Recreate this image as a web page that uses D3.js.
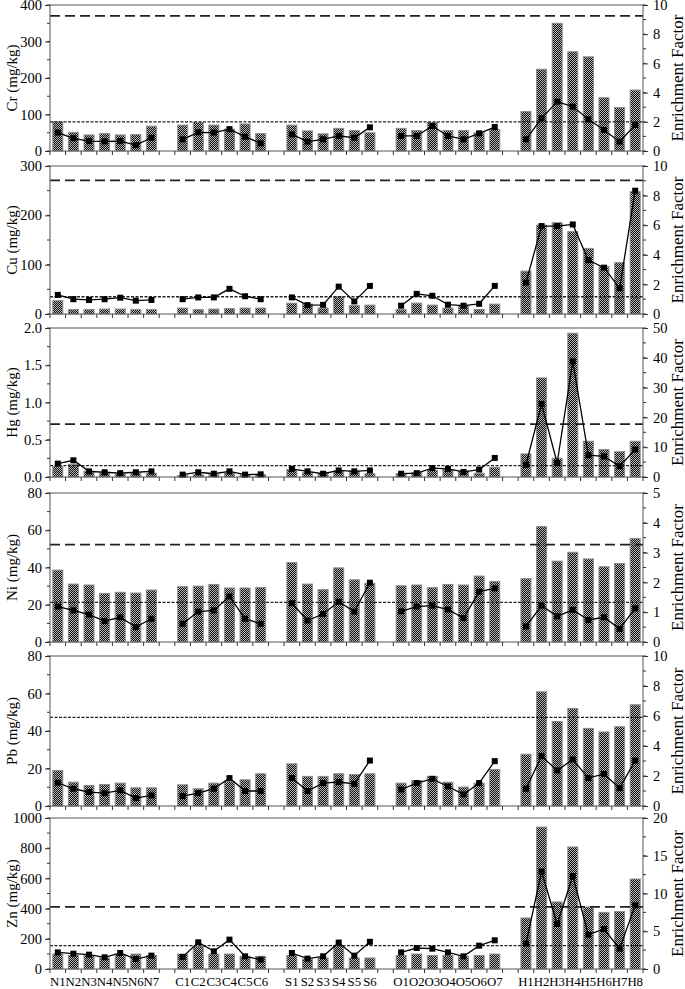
<!DOCTYPE html>
<html><head><meta charset="utf-8">
<script src="https://cdn.jsdelivr.net/npm/d3@7"></script>
<style>body{margin:0;background:#fff} svg{display:block}</style>
</head><body>
<svg id="c" width="685" height="989"></svg>
<script>
// ---------- DATA ----------
const groups = [
  ["N1","N2","N3","N4","N5","N6","N7"],
  ["C1","C2","C3","C4","C5","C6"],
  ["S1","S2","S3","S4","S5","S6"],
  ["O1","O2","O3","O4","O5","O6","O7"],
  ["H1","H2","H3","H4","H5","H6","H7","H8"]
];
const categories = groups.flat();
const elements = ["Cr","Cu","Hg","Ni","Pb","Zn"];

const crConc = [80,51,44,48,44,45,68, 71,78,71,60,74,48, 71,55,47,62,56,50, 62,56,78,56,56,50,59, 108,224,350,272,258,146,119,167];
const crEF   = [1.26,0.87,0.68,0.66,0.68,0.41,0.91, 0.8,1.28,1.26,1.5,0.98,0.53, 1.14,0.64,0.8,1.04,0.91,1.62, 1.03,1.03,1.71,1.03,0.8,1.21,1.64, 0.8,2.24,3.38,3.04,2.17,1.44,0.64,1.78];
const cuConc = [27,9,9,10,10,9,9, 12,9,10,11,12,12, 22,20,12,35,17,18, 9,22,18,12,17,9,20, 87,180,185,167,133,96,104,248];
const cuEF   = [1.29,1.0,0.95,1.0,1.1,0.9,0.95, 1.0,1.12,1.12,1.7,1.2,1.0, 1.12,0.6,0.62,1.85,0.85,1.9, 0.56,1.36,1.23,0.63,0.56,0.69,1.9, 2.12,5.94,5.94,6.05,3.64,3.13,1.74,8.33];
const hgConc = [0.14,0.17,0.08,0.05,0.045,0.05,0.05, 0.02,0.03,0.03,0.05,0.03,0.03, 0.1,0.06,0.045,0.08,0.08,0.045, 0.045,0.06,0.09,0.1,0.08,0.05,0.13, 0.31,1.33,0.25,1.93,0.48,0.37,0.34,0.48];
const hgEF   = [4.5,5.6,1.9,1.6,1.3,1.6,1.9, 0.8,1.6,1.1,1.9,0.8,0.9, 2.7,1.9,1.1,2.2,1.9,2.2, 1.1,1.3,3.0,2.7,1.7,2.5,6.4, 4.1,24.5,4.7,38.8,7.3,6.9,3.6,9.2];
const niConc = [38.6,31.1,30.6,26.1,26.7,26.3,27.9, 29.7,30,30.9,29,29,29.3, 42.7,31.1,28.1,39.8,33.4,31.5, 30.2,30.6,29.2,30.9,30.6,35.4,32.5, 34,62,43.4,48.2,44.6,40.4,42.1,55.6];
const niEF   = [1.19,1.06,0.92,0.7,0.83,0.5,0.78, 0.61,1.02,1.06,1.53,0.78,0.61, 1.3,0.72,0.94,1.35,1.02,1.99, 1.03,1.19,1.22,1.09,0.8,1.69,1.8, 0.52,1.22,0.86,1.08,0.74,0.83,0.44,1.13];
const pbConc = [18.9,12.7,11,11.5,12.2,9.7,9.7, 11.3,9.2,12.2,13,14,17.2, 22.5,15.8,15.8,17.2,16.8,17.2, 12.2,13.6,15.8,12.7,10.1,12.2,19.5, 27.6,60.9,45.1,52,41.4,39.5,42.3,54];
const pbEF   = [1.55,1.15,0.93,0.86,1.04,0.53,0.71, 0.66,0.86,1.15,1.86,1.0,1.0, 1.86,1.0,1.53,1.6,1.48,3.03, 1.1,1.53,1.81,1.3,0.77,1.53,2.99, 1.15,3.32,2.37,3.1,1.86,2.14,1.19,3.03];
const znConc = [99,90,90,73,95,99,90, 99,150,99,99,84,84, 90,66,73,155,73,73, 90,99,90,90,84,90,99, 338,940,444,808,411,375,380,596];
const znEF   = [2.2,2.03,1.9,1.55,2.12,1.32,1.77, 1.59,3.53,2.34,3.89,1.68,1.24, 2.12,1.37,1.68,3.5,1.77,3.6, 2.2,2.78,2.69,2.2,1.68,3.09,3.8, 3.36,12.9,5.96,12.3,4.55,5.3,2.69,8.43];

const concSeries = [crConc, cuConc, hgConc, niConc, pbConc, znConc];
const efSeries   = [crEF, cuEF, hgEF, niEF, pbEF, znEF];

const concMax   = [400, 300, 2.0, 80, 80, 1000];
const concStep  = [100, 100, 0.5, 20, 20, 200];
const concMinor = [50, 50, 0.25, 10, 10, 100];
const efMax     = [10, 10, 50, 5, 10, 20];
const efStep    = [2, 2, 10, 1, 2, 5];
const efMinor   = [1, 1, 5, 0.5, 1, 2.5];
const refLong   = [370, 271, 0.71, 52.3, null, 411];   // mg/kg
const refShort  = [80, 35, 0.152, 21.3, 47.3, 155];    // mg/kg

// ---------- LAYOUT ----------
const X0 = 50, X1 = 643;
const panelTop = [5, 166, 328, 493, 656, 818];
const panelBot = [151, 314, 477, 642, 806, 969];
const FONT = "Liberation Serif, Times New Roman, serif";

const svg = d3.select("#c");
const defs = svg.append("defs");
const pat = defs.append("pattern").attr("id","chk").attr("patternUnits","userSpaceOnUse")
  .attr("width",2).attr("height",2);
pat.append("rect").attr("width",2).attr("height",2).attr("fill","#0d0d0d");
pat.append("rect").attr("x",0).attr("y",0).attr("width",1).attr("height",1).attr("fill","#b8b8b8");
pat.append("rect").attr("x",1).attr("y",1).attr("width",1).attr("height",1).attr("fill","#b8b8b8");

const slots = [];
groups.forEach((g,i)=>{ if(i>0) slots.push("gap"+i); slots.push(...g); });
const x = d3.scaleBand().domain(slots).range([X0, X1]).padding(0);
const bw = x.bandwidth();
const barW = 10;

elements.forEach((el, p) => {
  const top = panelTop[p], bot = panelBot[p];
  const y = d3.scaleLinear().domain([0, concMax[p]]).range([bot, top]);
  const y2 = d3.scaleLinear().domain([0, efMax[p]]).range([bot, top]);
  const g = svg.append("g");
  const conc = concSeries[p], ef = efSeries[p];

  g.selectAll("rect.bar").data(categories).join("rect")
    .attr("x", d => x(d) + (bw - barW)/2)
    .attr("y", (d,i) => y(conc[i]))
    .attr("width", barW)
    .attr("height", (d,i) => bot - y(conc[i]))
    .attr("fill", "url(#chk)")
    .attr("stroke", "#8c8c8c").attr("stroke-width", 1);

  if (refLong[p] != null) {
    g.append("line").attr("x1", X0).attr("x2", X1)
      .attr("y1", y(refLong[p])).attr("y2", y(refLong[p]))
      .attr("stroke", "#222").attr("stroke-width", 1.7).attr("stroke-dasharray", "10,5");
  }
  if (refShort[p] != null) {
    g.append("line").attr("x1", X0).attr("x2", X1)
      .attr("y1", y(refShort[p])).attr("y2", y(refShort[p]))
      .attr("stroke", "#222").attr("stroke-width", 1.3).attr("stroke-dasharray", "3,1.5");
  }

  const line = d3.line().x(d => x(d.c) + bw/2).y(d => y2(d.v));
  groups.forEach(gr => {
    const pts = gr.map(c => ({c, v: ef[categories.indexOf(c)]}));
    g.append("path").datum(pts).attr("d", line)
      .attr("fill","none").attr("stroke","#000").attr("stroke-width",1.3);
  });
  g.selectAll("rect.mk").data(categories).join("rect")
    .attr("x", d => x(d) + bw/2 - 3)
    .attr("y", (d,i) => y2(ef[i]) - 3)
    .attr("width", 6).attr("height", 6).attr("fill", "#000");

  g.append("rect").attr("x", X0).attr("y", top).attr("width", X1 - X0).attr("height", bot - top)
    .attr("fill","none").attr("stroke","#555").attr("stroke-width",1);

  const majL = d3.range(0, concMax[p] + 1e-9, concStep[p]);
  const minL = d3.range(0, concMax[p] + 1e-9, concMinor[p]);
  const fmt = concMax[p] < 5 ? d3.format(".1f") : d3.format("d");
  const axL = g.append("g").attr("transform", `translate(${X0},0)`)
    .call(d3.axisLeft(y).tickValues(majL).tickFormat(fmt).tickSize(5).tickPadding(3));
  axL.select(".domain").remove();
  axL.selectAll("text").attr("font-family", FONT).attr("font-size", 14.5).attr("fill","#000");
  axL.selectAll("line").attr("stroke","#333");
  g.selectAll("line.minL").data(minL).join("line")
    .attr("x1", X0 - 3).attr("x2", X0).attr("y1", d => y(d)).attr("y2", d => y(d))
    .attr("stroke","#333");

  const majR = d3.range(0, efMax[p] + 1e-9, efStep[p]);
  const minR = d3.range(0, efMax[p] + 1e-9, efMinor[p]);
  const axR = g.append("g").attr("transform", `translate(${X1},0)`)
    .call(d3.axisRight(y2).tickValues(majR).tickFormat(d3.format("d")).tickSize(5).tickPadding(5));
  axR.select(".domain").remove();
  axR.selectAll("text").attr("font-family", FONT).attr("font-size", 14.5).attr("fill","#000");
  axR.selectAll("line").attr("stroke","#333");
  g.selectAll("line.minR").data(minR).join("line")
    .attr("x1", X1).attr("x2", X1 + 3).attr("y1", d => y2(d)).attr("y2", d => y2(d))
    .attr("stroke","#333");

  const bounds = slots.map(s => x(s)).concat([X1]);
  g.selectAll("line.xt").data(bounds).join("line")
    .attr("x1", d => d).attr("x2", d => d).attr("y1", bot).attr("y2", bot + 4)
    .attr("stroke","#333");

  const cy = (top + bot) / 2;
  g.append("text").attr("transform", `translate(12,${cy}) rotate(-90)`)
    .attr("text-anchor","middle").attr("dominant-baseline","central")
    .attr("font-family", FONT).attr("font-size", 15).text(el + " (mg/kg)");
  g.append("text").attr("transform", `translate(677,${cy}) rotate(-90)`)
    .attr("text-anchor","middle").attr("dominant-baseline","central")
    .attr("font-family", FONT).attr("font-size", 17).text("Enrichment Factor");
});

svg.append("g").selectAll("text").data(categories).join("text")
  .attr("x", d => x(d) + bw/2).attr("y", 986)
  .attr("text-anchor","middle").attr("font-family", FONT).attr("font-size", 12.8)
  .text(d => d);
</script>
</body></html>
